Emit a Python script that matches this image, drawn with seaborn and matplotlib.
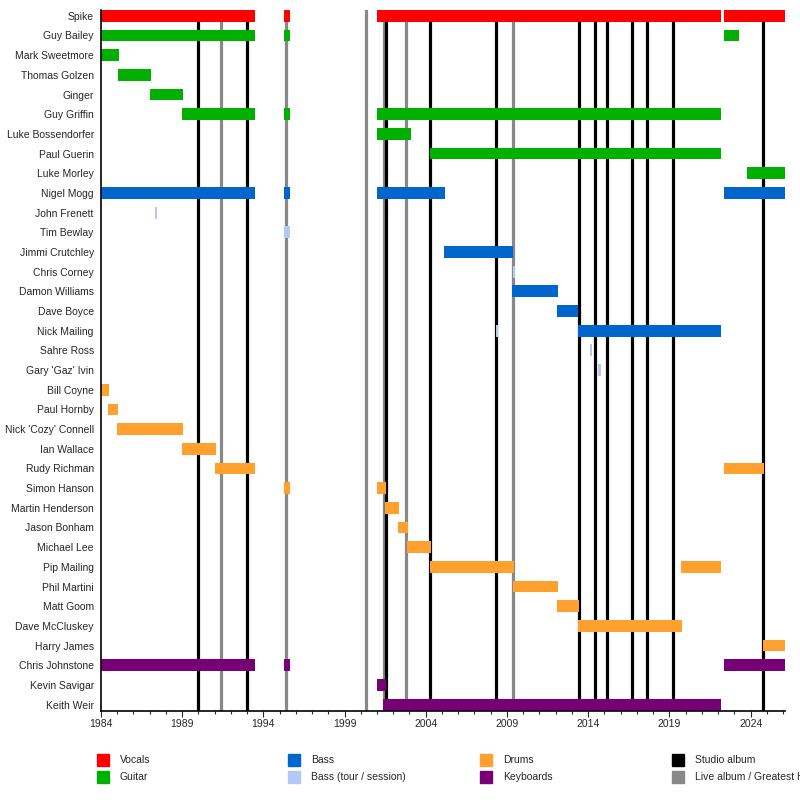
import pandas as pd
import matplotlib.pyplot as plt
import seaborn as sns
from matplotlib.patches import Rectangle

# membros (de cima para baixo)
membros = ["Spike", "Guy Bailey", "Mark Sweetmore", "Thomas Golzen", "Ginger",
           "Guy Griffin", "Luke Bossendorfer", "Paul Guerin", "Luke Morley",
           "Nigel Mogg", "John Frenett", "Tim Bewlay", "Jimmi Crutchley",
           "Chris Corney", "Damon Williams", "Dave Boyce", "Nick Mailing",
           "Sahre Ross", "Gary 'Gaz' Ivin", "Bill Coyne", "Paul Hornby",
           "Nick 'Cozy' Connell", "Ian Wallace", "Rudy Richman", "Simon Hanson",
           "Martin Henderson", "Jason Bonham", "Michael Lee", "Pip Mailing",
           "Phil Martini", "Matt Goom", "Dave McCluskey", "Harry James",
           "Chris Johnstone", "Kevin Savigar", "Keith Weir"]

# periodos: membro, funcao, inicio, fim
per_membro = ["Spike", "Spike", "Spike", "Spike",
              "Guy Bailey", "Guy Bailey", "Guy Bailey",
              "Mark Sweetmore", "Thomas Golzen", "Ginger",
              "Guy Griffin", "Guy Griffin", "Guy Griffin",
              "Luke Bossendorfer", "Paul Guerin", "Luke Morley",
              "Nigel Mogg", "Nigel Mogg", "Nigel Mogg", "Nigel Mogg",
              "John Frenett", "Tim Bewlay", "Jimmi Crutchley", "Chris Corney",
              "Damon Williams", "Dave Boyce", "Nick Mailing", "Nick Mailing",
              "Sahre Ross", "Gary 'Gaz' Ivin",
              "Bill Coyne", "Paul Hornby", "Nick 'Cozy' Connell", "Ian Wallace",
              "Rudy Richman", "Rudy Richman", "Simon Hanson", "Simon Hanson",
              "Martin Henderson", "Jason Bonham", "Michael Lee",
              "Pip Mailing", "Pip Mailing", "Phil Martini", "Matt Goom",
              "Dave McCluskey", "Harry James",
              "Chris Johnstone", "Chris Johnstone", "Chris Johnstone",
              "Kevin Savigar", "Keith Weir"]
per_funcao = ["V", "V", "V", "V",
              "G", "G", "G",
              "G", "G", "G",
              "G", "G", "G",
              "G", "G", "G",
              "B", "B", "B", "B",
              "BT", "BT", "B", "BT",
              "B", "B", "BT", "B",
              "BT", "BT",
              "D", "D", "D", "D",
              "D", "D", "D", "D",
              "D", "D", "D",
              "D", "D", "D", "D",
              "D", "D",
              "K", "K", "K",
              "K", "K"]
per_inicio = [1984.0, 1995.28, 2001.0, 2022.36,
              1984.0, 1995.28, 2022.36,
              1984.0, 1985.07, 1987.03,
              1989.0, 1995.28, 2001.0,
              2001.0, 2004.26, 2023.8,
              1984.0, 1995.28, 2001.0, 2022.36,
              1987.34, 1995.28, 2005.15, 2009.37,
              2009.33, 2012.08, 2008.35, 2013.4,
              2014.12, 2014.62,
              1984.0, 1984.47, 1985.0, 1989.0,
              1991.03, 2022.36, 1995.28, 2001.0,
              2001.5, 2002.3, 2002.87,
              2004.26, 2019.7, 2009.37, 2012.08,
              2013.37, 2024.78,
              1984.0, 1995.28, 2022.36,
              2001.0, 2001.35]
per_fim = [1993.5, 1995.65, 2022.2, 2026.1,
           1993.5, 1995.65, 2023.26,
           1985.13, 1987.1, 1989.06,
           1993.5, 1995.65, 2022.2,
           2003.1, 2022.2, 2026.1,
           1993.5, 1995.65, 2005.2, 2026.1,
           1987.46, 1995.65, 2009.37, 2009.47,
           2012.14, 2013.4, 2008.45, 2022.2,
           2014.22, 2014.78,
           1984.51, 1985.07, 1989.06, 1991.1,
           1993.5, 2024.82, 1995.65, 2001.55,
           2002.36, 2002.9, 2004.33,
           2009.43, 2022.2, 2012.14, 2013.42,
           2019.77, 2026.1,
           1993.5, 1995.65, 2026.1,
           2001.55, 2022.2]

# lancamentos
albuns_estudio = [1990.0, 1993.0, 2001.54, 2004.28, 2008.34, 2013.45, 2014.44,
                  2015.17, 2016.68, 2017.64, 2019.22, 2024.78]
albuns_ao_vivo = [1991.4, 1995.4, 2000.3, 2001.43, 2002.8, 2009.39]

funcoes = ["V", "G", "B", "BT", "D", "K"]
nomes_funcoes = ["Vocals", "Guitar", "Bass", "Bass (tour / session)", "Drums", "Keyboards"]
cores = {"V": "#ff0000", "G": "#00b000", "B": "#0066cc", "BT": "#b3c8f2",
         "D": "#ffa02f", "K": "#770077"}

dados = pd.DataFrame({"membro": per_membro, "funcao": per_funcao,
                      "inicio": per_inicio, "fim": per_fim})
dados["pos"] = dados["membro"].map({m: i for i, m in enumerate(membros)})

sns.set_theme(style="white")
plt.rcParams["font.family"] = ["Liberation Sans", "DejaVu Sans"]

fig = plt.figure(figsize=(8, 8.1), dpi=100)
ax = fig.add_axes([0.126, 0.1228, 0.855, 0.865])

for x in albuns_ao_vivo:
    ax.axvline(x, color="#888888", lw=2.3, zorder=1)
for x in albuns_estudio:
    ax.axvline(x, color="black", lw=2.3, zorder=1)

ax.barh(dados["pos"], dados["fim"] - dados["inicio"], left=dados["inicio"],
        height=0.6, color=dados["funcao"].map(cores), linewidth=0,
        edgecolor="none", zorder=2)

ax.set_xlim(1984, 2026.1)
ax.set_ylim(len(membros) - 1 + 0.3, -0.3)
ax.set_yticks(range(len(membros)))
ax.set_yticklabels(membros, fontsize=7.5)
ax.set_xticks(range(1984, 2027, 5))
ax.set_xticks(range(1984, 2027), minor=True)
ax.tick_params(axis="x", which="major", bottom=True, length=4, width=0.8,
               labelsize=7.5, pad=2)
ax.tick_params(axis="x", which="minor", bottom=True, length=2.5, width=0.8)
ax.tick_params(axis="y", length=0, pad=5)
for lado in ["top", "right"]:
    ax.spines[lado].set_visible(False)
for lado in ["left", "bottom"]:
    ax.spines[lado].set_color("black")
    ax.spines[lado].set_linewidth(1.2)

# legenda manual em 4 colunas
itens = list(zip(nomes_funcoes, [cores[f] for f in funcoes]))
itens += [("Studio album", "black"), ("Live album / Greatest Hits", "#888888")]
col_x = [97, 288, 480, 672]
lin_y = [760, 777]
for i, (nome, cor) in enumerate(itens):
    cx = col_x[i // 2]
    cy = lin_y[i % 2]
    fig.patches.append(Rectangle((cx / 800, 1 - (cy + 6) / 810), 12 / 800, 12 / 810,
                                 transform=fig.transFigure, color=cor))
    fig.text((cx + 23) / 800, 1 - cy / 810, nome, fontsize=7.5, va="center")

fig.savefig("out.png", dpi=100)
